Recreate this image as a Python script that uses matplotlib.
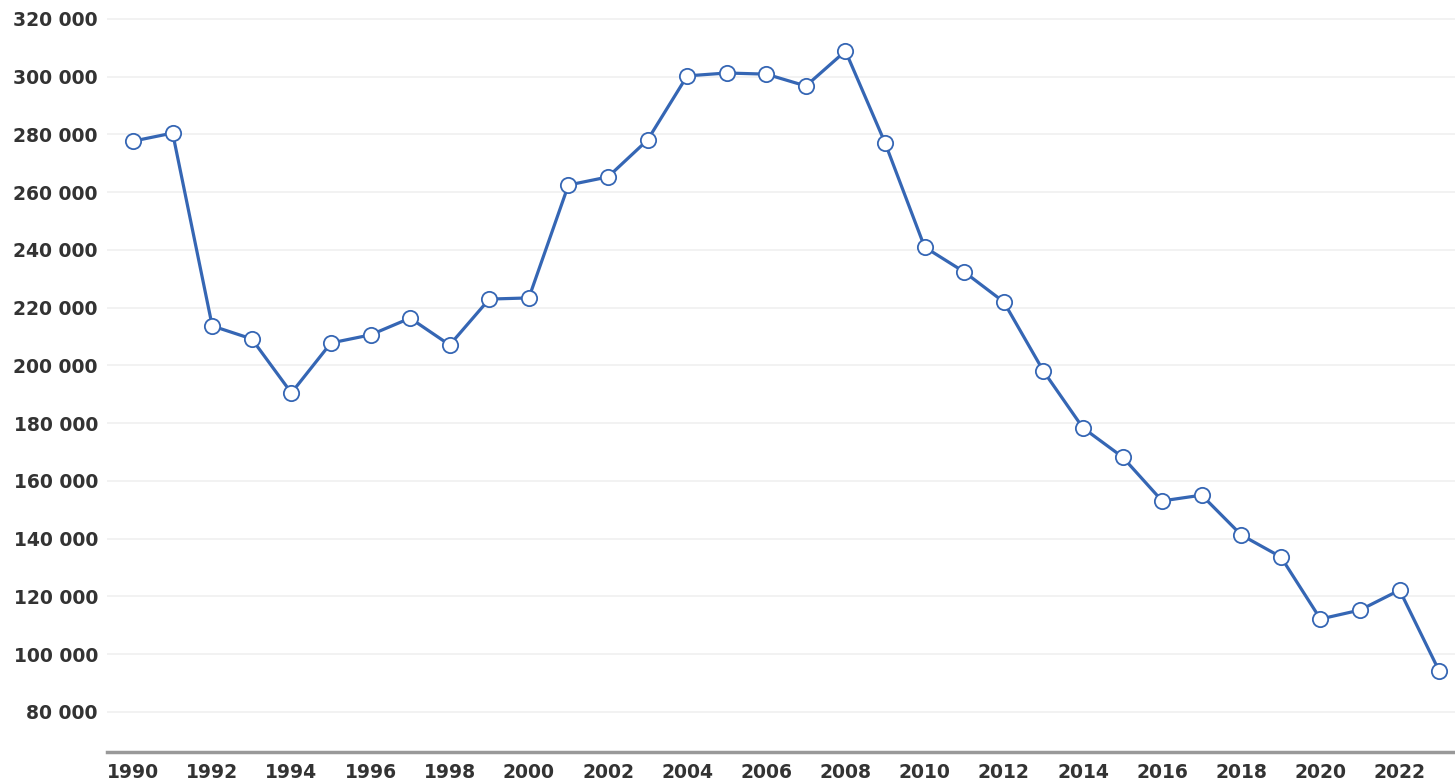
import matplotlib.pyplot as plt
import numpy as np
from matplotlib.ticker import FuncFormatter

years = list(range(1990, 2024))
values = [277700, 280500, 213700, 209200, 190500, 207800, 210600, 216400,
          207100, 223000, 223400, 262500, 265300, 278100, 300300, 301300,
          300900, 296800, 308900, 277100, 241000, 232400, 222000, 198100,
          178400, 168300, 153100, 155100, 141300, 133700, 112200, 115300,
          122200, 94200]

y_ticks = list(range(80000, 320001, 20000))
x_ticks = list(range(1990, 2023, 2))

line_color = '#3566b4'
text_color = '#333333'

fig = plt.figure(figsize=(14.55, 7.82), dpi=100)
ax = fig.add_axes([0.0735, 0.0384, 0.9265, 0.9616])

ax.plot(years, values, color=line_color, linewidth=2.3, marker='o',
        markersize=11, markerfacecolor='white', markeredgecolor=line_color,
        markeredgewidth=1.3, zorder=3)

ax.set_xlim(1989.34, 2023.4)
ax.set_ylim(66150, 326580)
ax.set_yticks(y_ticks)
ax.set_xticks(x_ticks)
ax.yaxis.set_major_formatter(FuncFormatter(lambda v, p: f'{int(v):,}'.replace(',', ' ')))

ax.grid(axis='y', color='#f0f0f0', linewidth=1.2)
ax.set_axisbelow(True)
for side in ['top', 'right', 'left']:
    ax.spines[side].set_visible(False)
ax.spines['bottom'].set_color('#999999')
ax.spines['bottom'].set_linewidth(2.5)

ax.tick_params(axis='both', length=0, labelsize=13.5, labelcolor=text_color)
ax.tick_params(axis='y', pad=6.5)
ax.tick_params(axis='x', pad=8)
for lbl in ax.get_xticklabels() + ax.get_yticklabels():
    lbl.set_fontweight('bold')

fig.savefig('out.png', dpi=100)
